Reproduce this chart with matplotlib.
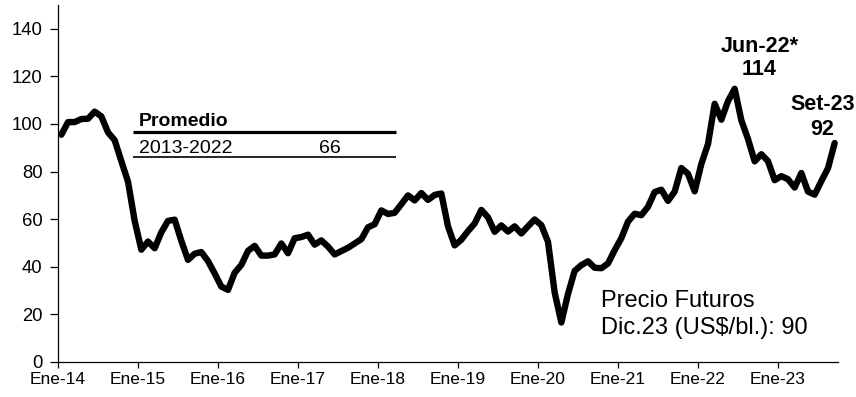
import matplotlib.pyplot as plt
import numpy as np

plt.rcParams["font.family"] = ["Liberation Sans", "DejaVu Sans"]

# WTI monthly average price (US$/bl.), Jan-14 .. Sep-23
p2014 = [95.5, 100.8, 100.8, 102.1, 102.2, 105.2, 103.2, 96.5, 93.2, 84.4, 75.8, 59.3]
p2015 = [47.2, 50.6, 47.8, 54.5, 59.3, 59.8, 50.9, 42.9, 45.5, 46.2, 42.4, 37.2]
p2016 = [31.7, 30.3, 37.5, 40.8, 46.7, 48.8, 44.7, 44.7, 45.2, 49.8, 45.7, 52.0]
p2017 = [52.5, 53.5, 49.3, 51.1, 48.5, 45.2, 46.6, 48.0, 49.8, 51.6, 56.6, 57.9]
p2018 = [63.7, 62.2, 62.7, 66.3, 70.0, 67.9, 71.0, 68.1, 70.2, 70.8, 57.0, 49.0]
p2019 = [51.4, 55.0, 58.2, 63.9, 60.8, 54.7, 57.4, 54.8, 57.0, 54.0, 57.0, 59.9]
p2020 = [57.5, 50.5, 29.2, 16.6, 28.6, 38.3, 40.7, 42.3, 39.6, 39.4, 41.4, 47.0]
p2021 = [52.0, 59.0, 62.3, 61.7, 65.2, 71.4, 72.4, 67.7, 71.6, 81.5, 79.1, 71.7]
p2022 = [83.2, 91.6, 108.5, 101.8, 109.6, 114.8, 101.6, 93.7, 84.3, 87.3, 84.4, 76.4]
p2023 = [78.1, 76.8, 73.3, 79.4, 71.6, 70.3, 76.0, 81.4, 92.0]

years = ["Ene-14", "Ene-15", "Ene-16", "Ene-17", "Ene-18",
         "Ene-19", "Ene-20", "Ene-21", "Ene-22", "Ene-23"]

promedio_periodo = "2013-2022"
promedio_valor = 66
futuros_dic23 = 90
pico_label, pico_valor = "Jun-22*", 114
ultimo_label, ultimo_valor = "Set-23", 92

precio = np.array(p2014 + p2015 + p2016 + p2017 + p2018 +
                  p2019 + p2020 + p2021 + p2022 + p2023)
x = np.arange(len(precio)) + 0.5  # mid-month

fig = plt.figure(figsize=(8.56, 3.97), dpi=100)
ax = fig.add_axes([58/856, 35/397, 780/856, 357/397])

ax.plot(x, precio, color="black", lw=4.6, solid_joinstyle="round", solid_capstyle="round")

ax.set_xlim(0, 117)
ax.set_ylim(0, 150)
ax.set_xticks(np.arange(len(years)) * 12)
ax.set_xticklabels(years, fontsize=12.5)
ax.set_yticks(np.arange(0, 141, 20))
ax.tick_params(axis="y", labelsize=13.3, length=5.5, width=0.9, direction="out", pad=5.5)
ax.tick_params(axis="x", length=4, width=0.9, direction="out", pad=3)
for s in ["top", "right"]:
    ax.spines[s].set_visible(False)
for s in ["left", "bottom"]:
    ax.spines[s].set_linewidth(0.9)

# average box
ax.plot([11.2, 50.7], [96.7, 96.7], color="black", lw=2.3, solid_capstyle="butt")
ax.plot([11.2, 50.7], [86.2, 86.2], color="black", lw=1.2, solid_capstyle="butt")
ax.text(12.1, 99.2, "Promedio", fontsize=14, fontweight="bold", va="baseline")
ax.text(12.1, 87.9, promedio_periodo, fontsize=14, va="baseline")
ax.text(40.8, 87.9, f"{promedio_valor}", fontsize=14, va="baseline", ha="center")

# annotations
ax.text(105.2, 130.3, pico_label, fontsize=15.5, fontweight="bold", ha="center", va="baseline")
ax.text(105.2, 120.6, f"{pico_valor}", fontsize=15.5, fontweight="bold", ha="center", va="baseline")
ax.text(114.7, 105.9, ultimo_label, fontsize=15.5, fontweight="bold", ha="center", va="baseline")
ax.text(114.7, 95.4, f"{ultimo_valor}", fontsize=15.5, fontweight="bold", ha="center", va="baseline")

ax.text(81.4, 23.1, "Precio Futuros", fontsize=17, va="baseline")
ax.text(81.4, 11.8, f"Dic.23 (US$/bl.): {futuros_dic23}", fontsize=17, va="baseline")

fig.savefig("out.png", dpi=100)
